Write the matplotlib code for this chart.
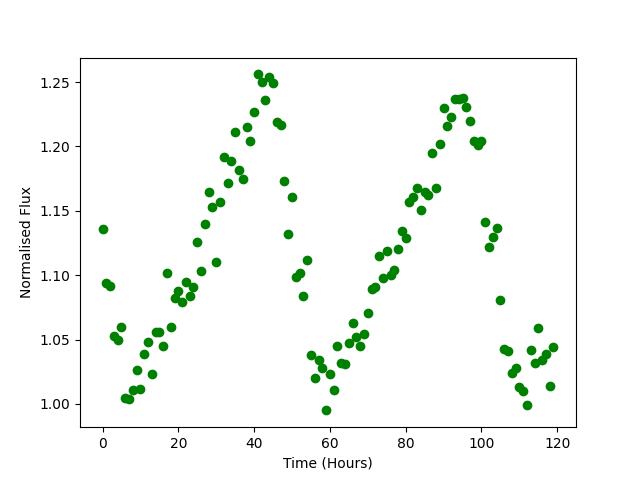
import numpy as np
from matplotlib import pyplot as plt

# Observation times (hours) and normalised flux readings
time_hours = np.arange(0, 120)

flux = [
    1.136, 1.094, 1.092, 1.053, 1.050, 1.060, 1.005, 1.004, 1.011, 1.026,
    1.012, 1.039, 1.048, 1.023, 1.056, 1.056, 1.045, 1.102, 1.060, 1.082,
    1.088, 1.079, 1.095, 1.084, 1.091, 1.126, 1.103, 1.140, 1.165, 1.153,
    1.110, 1.157, 1.192, 1.172, 1.189, 1.211, 1.182, 1.175, 1.215, 1.204,
    1.227, 1.256, 1.250, 1.236, 1.254, 1.249, 1.219, 1.217, 1.173, 1.132,
    1.161, 1.099, 1.102, 1.084, 1.112, 1.038, 1.020, 1.034, 1.028, 0.995,
    1.023, 1.011, 1.045, 1.032, 1.031, 1.047, 1.063, 1.052, 1.045, 1.054,
    1.071, 1.089, 1.091, 1.115, 1.098, 1.119, 1.100, 1.104, 1.120, 1.134,
    1.129, 1.157, 1.161, 1.168, 1.151, 1.165, 1.162, 1.195, 1.168, 1.202,
    1.230, 1.216, 1.223, 1.237, 1.237, 1.238, 1.231, 1.220, 1.204, 1.201,
    1.204, 1.141, 1.122, 1.130, 1.137, 1.081, 1.043, 1.041, 1.024, 1.028,
    1.013, 1.010, 0.999, 1.042, 1.032, 1.059, 1.034, 1.039, 1.014, 1.044,
]

fig = plt.figure(figsize=(6.4, 4.8), dpi=100)
plt.plot(time_hours, flux, "go")
plt.xlabel("Time (Hours)")
plt.ylabel("Normalised Flux")
plt.savefig("out.png")
